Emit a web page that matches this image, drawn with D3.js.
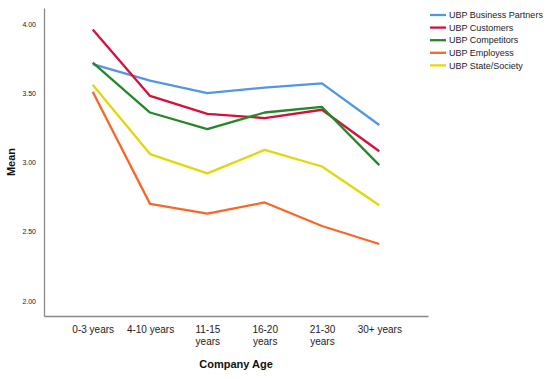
<!DOCTYPE html>
<html><head><meta charset="utf-8">
<script src="https://cdn.jsdelivr.net/npm/d3@7"></script>
<style>body{margin:0;background:#fff}svg{display:block}text{font-family:Arial,"Liberation Sans",sans-serif}</style>
</head><body><svg id="c" width="550" height="379"></svg>
<script>
const categories = ["0-3 years","4-10 years","11-15 years","16-20 years","21-30 years","30+ years"];
const seriesNames = ["UBP Business Partners","UBP Customers","UBP Competitors","UBP Employess","UBP State/Society"];
const businessPartners = [3.71,3.59,3.50,3.54,3.57,3.27];
const customers = [3.96,3.48,3.35,3.32,3.38,3.08];
const competitors = [3.72,3.36,3.24,3.36,3.40,2.98];
const employees = [3.51,2.70,2.63,2.71,2.54,2.41];
const stateSociety = [3.56,3.06,2.92,3.09,2.97,2.69];
const yTicks = [2.0,2.5,3.0,3.5,4.0];
const colors = ["#5197e6","#d5103c","#25872a","#f7672a","#e2d70a"];
const seriesValues = [businessPartners,customers,competitors,employees,stateSociety];

(function(){
const svg = d3.select("#c");
const pl=44, pr=428, pt=8, pb=316;
const x = d3.scalePoint().domain(categories).range([pl,pr]).padding(0.85);
const y = d3.scaleLinear().domain([1.89,4.115]).range([pb,pt]);

const ya = svg.append("g").attr("transform",`translate(${pl},0)`)
  .call(d3.axisLeft(y).tickValues(yTicks).tickFormat(d3.format(".2f")).tickSize(0).tickPadding(8));
ya.select(".domain").attr("stroke","#888").attr("stroke-width",1.3);
ya.selectAll("text").attr("font-size",7).attr("fill","#222");

const xa = svg.append("g").attr("transform",`translate(0,${pb})`)
  .call(d3.axisBottom(x).tickSize(0).tickPadding(10));
xa.select(".domain").attr("stroke","#888").attr("stroke-width",1.3);
xa.selectAll("text").attr("font-size",10).attr("fill","#222").each(function(d){
  const t=d3.select(this);
  if(d!=="0-3 years" && d!=="4-10 years" && d!=="30+ years"){
    const parts=d.split(" ");
    t.text(null);
    t.append("tspan").attr("x",0).attr("dy","0.71em").text(parts[0]);
    t.append("tspan").attr("x",0).attr("dy","1.15em").text(parts[1]);
    t.attr("dy",null);
  }
});

const line = d3.line().x((d,i)=>x(categories[i])).y(d=>y(d));
seriesValues.forEach((vals,k)=>{
  svg.append("path").datum(vals).attr("d",line).attr("fill","none")
    .attr("stroke",colors[k]).attr("stroke-width",2.3).attr("stroke-linejoin","round");
});

svg.append("text").attr("transform","translate(15,162) rotate(-90)").attr("text-anchor","middle")
  .attr("font-size",11).attr("font-weight","bold").attr("fill","#111").text("Mean");
svg.append("text").attr("x",236).attr("y",368).attr("text-anchor","middle")
  .attr("font-size",11).attr("font-weight","bold").attr("fill","#111").text("Company Age");

const lg = svg.append("g");
seriesNames.forEach((n,k)=>{
  const yy = 15 + k*12.6;
  lg.append("line").attr("x1",430).attr("x2",446).attr("y1",yy).attr("y2",yy)
    .attr("stroke",colors[k]).attr("stroke-width",2.3);
  lg.append("text").attr("x",449).attr("y",yy).attr("dy","0.35em").attr("font-size",9)
    .attr("fill","#222").text(n);
});
})();
</script></body></html>
